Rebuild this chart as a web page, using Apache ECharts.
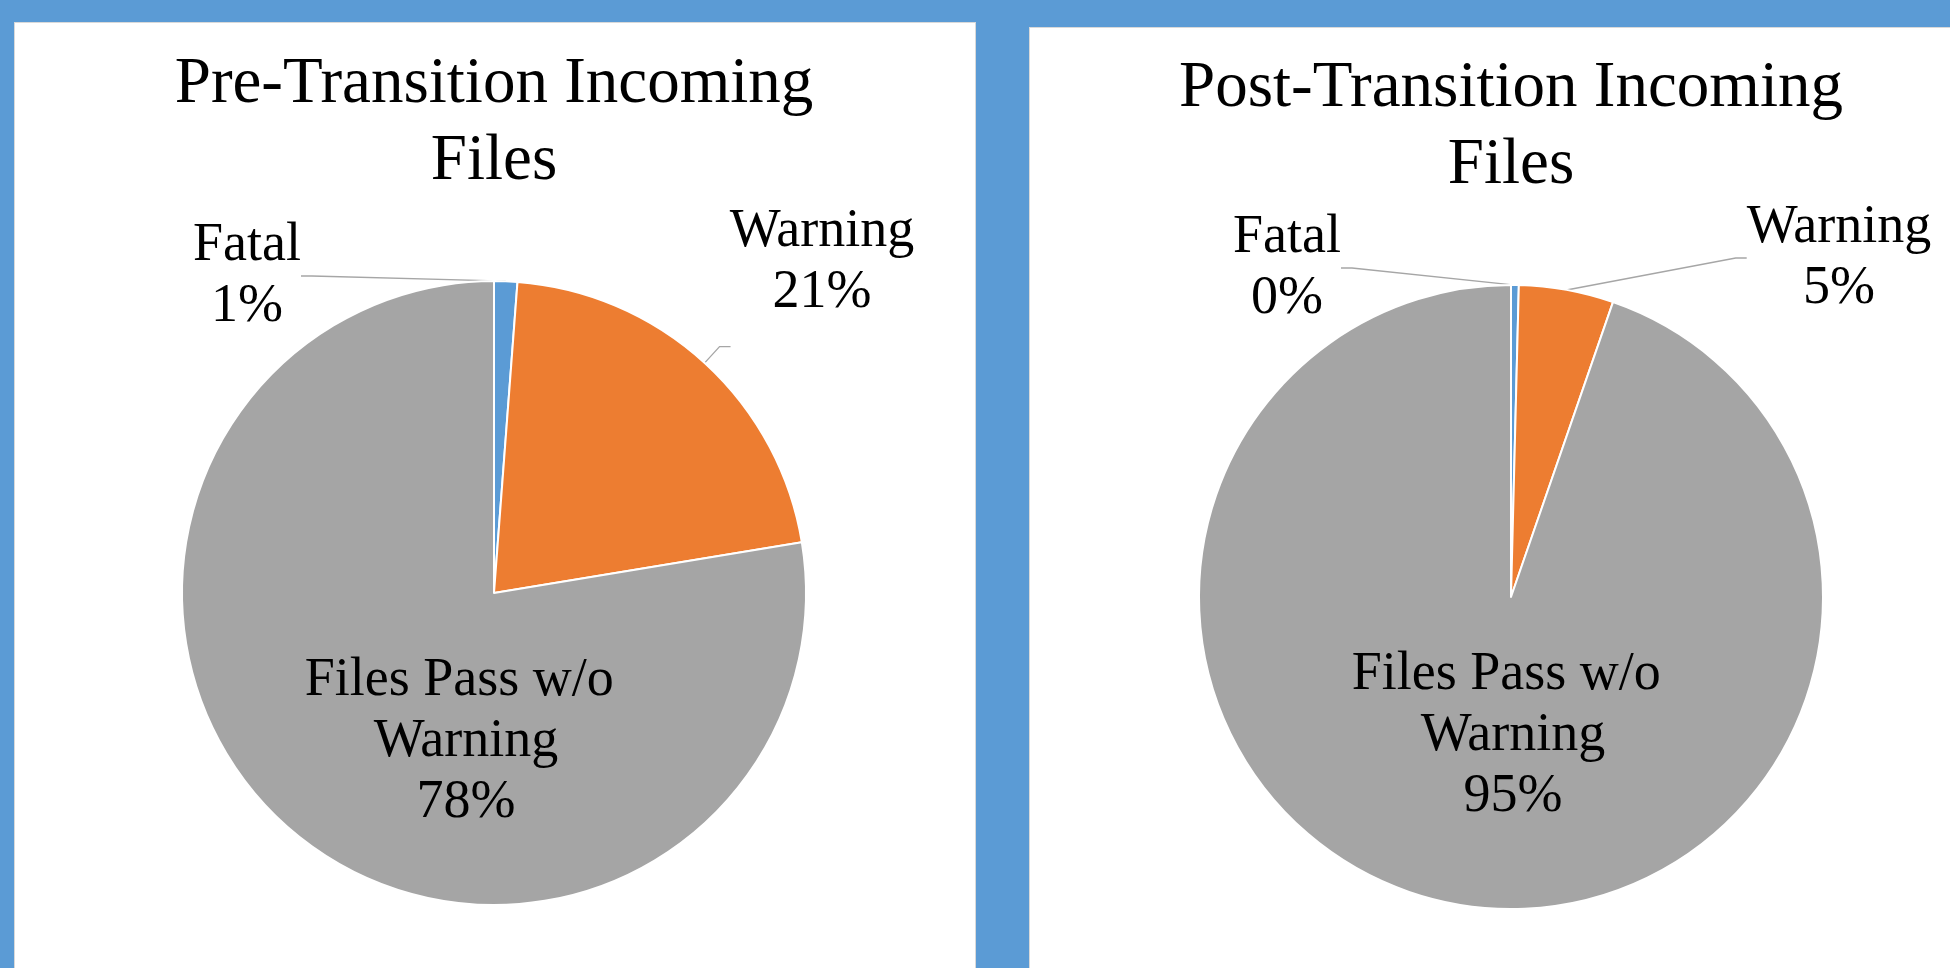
<!DOCTYPE html>
<html>
<head>
<meta charset="utf-8">
<title>Incoming Files</title>
<script src="https://cdn.jsdelivr.net/npm/echarts@6/dist/echarts.min.js"></script>
<style>
  html, body { margin: 0; padding: 0; width: 1950px; height: 968px; overflow: hidden; background: #5B9BD5; }
  .panel { position: absolute; background: #fff; border: 1px solid #D9D9D9; box-sizing: border-box; }
  #left { left: 14px; top: 22px; width: 962px; height: 960px; }
  #right { left: 1029px; top: 27px; width: 940px; height: 960px; }
  #chart { position: absolute; left: 0; top: 0; width: 1950px; height: 968px; }
</style>
</head>
<body>
<div class="panel" id="left"></div>
<div class="panel" id="right"></div>
<div id="chart"></div>
<script>
// data (labels are rounded to whole percent)
const categories = ['Fatal', 'Warning', 'Files Pass w/o Warning'];
const preValues = [1.2, 21.2, 77.6];
const postValues = [0.4, 4.9, 94.7];
const titles = ['Pre-Transition Incoming\nFiles', 'Post-Transition Incoming\nFiles'];
const colors = ['#5B9BD5', '#ED7D31', '#A5A5A5'];

const font = 'Liberation Serif';

// where each pie sits and where its labels go (offsets from the pie centre)
// keepLine: label was dragged away but the leader line stays at the slice
const pies = [
  { center: [494, 593], radius: 312, titleTop: 46, labelPos: [[-247, -317], [328, -331], [-28, 149]], keepLine: [false, true, false] },
  { center: [1511, 597], radius: 312, titleTop: 50, labelPos: [[-224, -329], [328, -339], [2, 139]], keepLine: [false, false, false] }
];

let chart = echarts.init(document.getElementById('chart'));

let option = {
  animation: false,
  backgroundColor: 'transparent',
  title: titles.map((t, s) => ({
    text: t,
    left: pies[s].center[0],
    top: pies[s].titleTop,
    textAlign: 'center',
    padding: 0,
    textStyle: { fontFamily: font, fontSize: 65, fontWeight: 'normal', lineHeight: 77, color: '#000' }
  })),
  series: [preValues, postValues].map((vals, s) => ({
    type: 'pie',
    center: pies[s].center,
    radius: pies[s].radius,
    startAngle: 90,
    clockwise: true,
    percentPrecision: 0,
    avoidLabelOverlap: false,
    silent: true,
    itemStyle: { borderColor: '#fff', borderWidth: 2 },
    label: {
      show: true,
      formatter: '{b}\n{d}%',
      fontFamily: font,
      fontSize: 54,
      lineHeight: 61,
      color: '#000'
    },
    labelLine: { show: true, length: 22, length2: 11, lineStyle: { color: '#A6A6A6', width: 1.3 } },
    labelLayout: function (p) {
      let c = pies[s].center;
      let off = pies[s].labelPos[p.dataIndex];
      let res = { x: c[0] + off[0], y: c[1] + off[1], align: 'center', verticalAlign: 'middle' };
      if (pies[s].keepLine[p.dataIndex] && p.labelLinePoints) {
        res.labelLinePoints = p.labelLinePoints;
      }
      return res;
    },
    data: categories.map((name, i) => {
      let item = { name: name, value: vals[i], itemStyle: { color: colors[i] } };
      if (i === 2) {
        item.label = { position: 'inside', width: 330, overflow: 'break' };
        item.labelLine = { show: false };
      }
      return item;
    })
  }))
};

chart.setOption(option);
</script>
</body>
</html>
